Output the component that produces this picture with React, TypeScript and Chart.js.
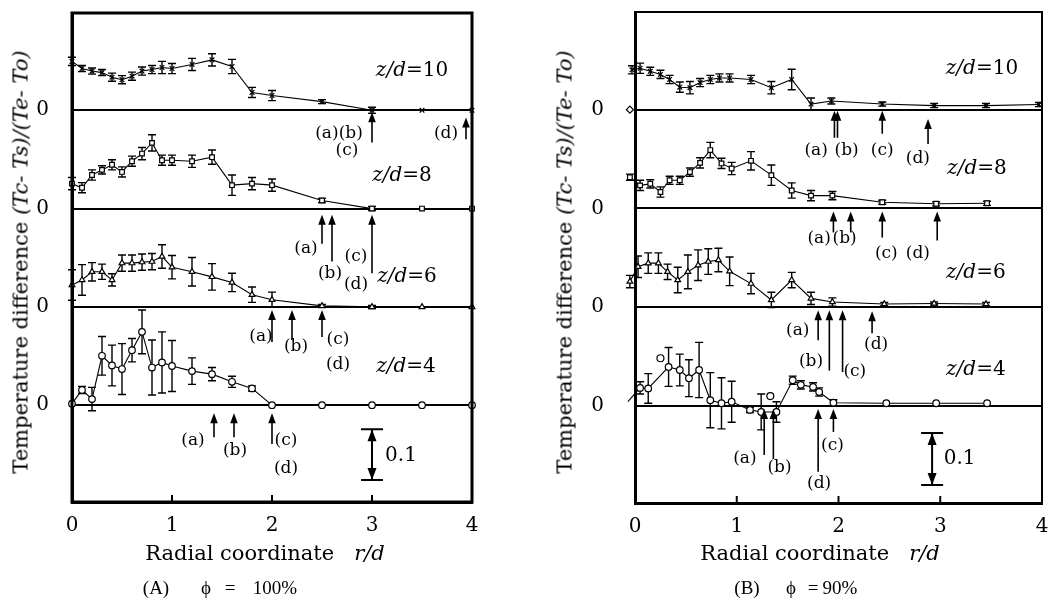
import React, { useEffect, useRef } from 'react';
import { Chart, registerables } from 'chart.js';

Chart.register(...registerables);

const FONT = '"DejaVu Serif", serif';
const CAP_FONT = '"Liberation Serif", "Times New Roman", serif';

// value axis (every profile is shifted up by its own offset; each baseline is labelled "0")
const Y_MIN = -0.19;
const Y_MAX = 0.77;
const OFFSETS = [0.579, 0.386, 0.193, 0]; // z/d = 10, 8, 6, 4
const ZD_TEXT = ['10', '8', '6', '4'];
const STYLES = ['crossRot', 'rect', 'triangle', 'circle'];
const X_TICKS = [0, 1, 2, 3, 4];

// ---------------- Panel A : phi = 100% ----------------
const xA = [0, 0.1, 0.2, 0.3, 0.4, 0.5, 0.6, 0.7, 0.8, 0.9, 1.0, 1.2, 1.4, 1.6, 1.8, 2.0, 2.5, 3.0, 3.5, 4.0];
const yA10 = [0.096, 0.082, 0.077, 0.074, 0.065, 0.06, 0.067, 0.077, 0.08, 0.084, 0.082, 0.09, 0.099, 0.086, 0.035, 0.029, 0.017, 0, 0, 0];
const eA10 = [0.008, 0.006, 0.006, 0.006, 0.008, 0.008, 0.008, 0.008, 0.008, 0.012, 0.01, 0.012, 0.012, 0.014, 0.01, 0.01, 0.004, 0.006, 0, 0];
const yA8 = [0.049, 0.041, 0.066, 0.076, 0.086, 0.072, 0.093, 0.108, 0.129, 0.095, 0.095, 0.093, 0.101, 0.046, 0.049, 0.046, 0.016, 0, 0, 0];
const eA8 = [0.012, 0.01, 0.01, 0.008, 0.01, 0.01, 0.01, 0.012, 0.016, 0.01, 0.01, 0.012, 0.014, 0.02, 0.012, 0.012, 0.004, 0.004, 0, 0];
const yA6 = [0.043, 0.053, 0.069, 0.069, 0.053, 0.086, 0.086, 0.088, 0.089, 0.099, 0.078, 0.069, 0.059, 0.048, 0.024, 0.014, 0.002, 0, 0, 0];
const eA6 = [0.03, 0.03, 0.018, 0.015, 0.012, 0.016, 0.016, 0.016, 0.016, 0.023, 0.023, 0.028, 0.026, 0.018, 0.015, 0.015, 0.003, 0.003, 0, 0];
const yA4 = [0.003, 0.03, 0.012, 0.097, 0.078, 0.071, 0.108, 0.144, 0.074, 0.084, 0.077, 0.067, 0.061, 0.046, 0.033, 0, 0, 0, 0, 0];
const eA4 = [0, 0.007, 0.023, 0.038, 0.04, 0.05, 0.023, 0.043, 0.054, 0.06, 0.05, 0.026, 0.013, 0.011, 0.005, 0, 0, 0, 0, 0];

// arrows: [profile index, r/d, tip value, tail value]
const arrowsA = [
  [0, 3.0, -0.004, -0.063], [0, 3.94, -0.014, -0.057],
  [1, 2.5, -0.012, -0.069], [1, 2.6, -0.012, -0.104], [1, 3.0, -0.012, -0.127],
  [2, 2.0, -0.006, -0.069], [2, 2.2, -0.006, -0.065], [2, 2.5, -0.006, -0.059],
  [3, 1.42, -0.016, -0.063], [3, 1.62, -0.016, -0.063], [3, 2.0, -0.016, -0.076],
];
// arrow labels: [profile index, text, r/d, value]
const marksA: [number, string, number, number][] = [
  [0, '(a)(b)', 2.67, -0.045], [0, '(c)', 2.75, -0.08], [0, '(d)', 3.74, -0.045],
  [1, '(a)', 2.34, -0.078], [1, '(b)', 2.58, -0.127], [1, '(c)', 2.84, -0.094], [1, '(d)', 2.84, -0.15],
  [2, '(a)', 1.89, -0.058], [2, '(b)', 2.24, -0.078], [2, '(c)', 2.66, -0.065], [2, '(d)', 2.66, -0.114],
  [3, '(a)', 1.21, -0.07], [3, '(b)', 1.63, -0.09], [3, '(c)', 2.14, -0.07], [3, '(d)', 2.14, -0.125],
];
// z/d labels: [r/d, value above baseline]
const zdPosA = [[3.4, 0.077], [3.3, 0.065], [3.35, 0.059], [3.34, 0.075]];
// scale bar: [r/d, from, to, label r/d, label value] (relative to z/d=4 baseline)
const barA = [3.0, -0.047, -0.147, 3.29, -0.099];

// ---------------- Panel B : phi = 90% ----------------
const xB10 = [-0.03, 0.05, 0.15, 0.25, 0.34, 0.44, 0.54, 0.64, 0.74, 0.83, 0.93, 1.14, 1.34, 1.54, 1.73, 1.93, 2.43, 2.94, 3.45, 3.97];
const yB10 = [0.078, 0.081, 0.075, 0.069, 0.059, 0.044, 0.043, 0.053, 0.059, 0.062, 0.062, 0.059, 0.043, 0.059, 0.011, 0.017, 0.011, 0.008, 0.008, 0.01];
const eB10 = [0.008, 0.01, 0.008, 0.008, 0.008, 0.01, 0.012, 0.008, 0.008, 0.008, 0.008, 0.008, 0.012, 0.02, 0.012, 0.006, 0.004, 0.004, 0.004, 0.004];
const xB8 = [-0.05, 0.05, 0.15, 0.25, 0.34, 0.44, 0.54, 0.64, 0.74, 0.85, 0.95, 1.14, 1.34, 1.54, 1.73, 1.94, 2.43, 2.96, 3.46];
const yB8 = [0.061, 0.045, 0.048, 0.032, 0.055, 0.055, 0.071, 0.089, 0.114, 0.088, 0.078, 0.093, 0.065, 0.035, 0.025, 0.025, 0.012, 0.009, 0.01];
const eB8 = [0.006, 0.01, 0.008, 0.01, 0.008, 0.008, 0.008, 0.01, 0.015, 0.01, 0.012, 0.018, 0.02, 0.015, 0.01, 0.008, 0.004, 0.004, 0.004];
const xB6 = [-0.05, 0.03, 0.13, 0.23, 0.32, 0.42, 0.52, 0.62, 0.72, 0.82, 0.93, 1.14, 1.34, 1.54, 1.73, 1.94, 2.45, 2.94, 3.45];
const yB6 = [0.05, 0.079, 0.086, 0.086, 0.069, 0.053, 0.069, 0.082, 0.089, 0.092, 0.07, 0.046, 0.014, 0.053, 0.017, 0.01, 0.006, 0.007, 0.006];
const eB6 = [0.012, 0.021, 0.02, 0.02, 0.015, 0.025, 0.033, 0.03, 0.025, 0.023, 0.028, 0.02, 0.015, 0.015, 0.012, 0.008, 0.003, 0.003, 0.003];
const xB4 = [-0.07, 0.05, 0.13, 0.33, 0.44, 0.53, 0.63, 0.74, 0.85, 0.95, 1.13, 1.24, 1.39, 1.55, 1.63, 1.75, 1.81, 1.95, 2.47, 2.96, 3.46];
const yB4 = [0.008, 0.035, 0.034, 0.076, 0.07, 0.054, 0.07, 0.011, 0.005, 0.008, -0.008, -0.012, -0.012, 0.05, 0.041, 0.037, 0.027, 0.006, 0.005, 0.005, 0.005];
const eB4 = [0, 0.012, 0.029, 0.038, 0.031, 0.036, 0.054, 0.054, 0.05, 0.04, 0.005, 0.035, 0.02, 0.008, 0.008, 0.008, 0.008, 0.006, 0, 0, 0];
// isolated readings (no connecting line)
const xB4extra = [0.25, 1.33];
const yB4extra = [0.093, 0.019];
const xB10extra = [-0.05];
const yB10extra = [0.0];

const arrowsB = [
  [0, 1.96, -0.002, -0.055], [0, 1.99, -0.002, -0.055], [0, 2.43, -0.002, -0.047], [0, 2.88, -0.018, -0.067],
  [1, 1.95, -0.006, -0.047], [1, 2.12, -0.006, -0.047], [1, 2.43, -0.006, -0.057], [1, 2.97, -0.006, -0.063],
  [2, 1.8, -0.006, -0.065], [2, 1.91, -0.006, -0.124], [2, 2.04, -0.006, -0.127], [2, 2.33, -0.008, -0.051],
  [3, 1.27, -0.006, -0.096], [3, 1.36, -0.006, -0.104], [3, 1.8, -0.006, -0.129], [3, 1.95, -0.006, -0.051],
];
const marksB: [number, string, number, number][] = [
  [0, '(a)', 1.78, -0.08], [0, '(b)', 2.08, -0.08], [0, '(c)', 2.43, -0.08], [0, '(d)', 2.78, -0.095],
  [1, '(a)', 1.81, -0.059], [1, '(b)', 2.06, -0.059], [1, '(c)', 2.47, -0.088], [1, '(d)', 2.78, -0.088],
  [2, '(a)', 1.6, -0.045], [2, '(b)', 1.73, -0.107], [2, '(c)', 2.16, -0.127], [2, '(d)', 2.37, -0.074],
  [3, '(a)', 1.08, -0.103], [3, '(b)', 1.42, -0.121], [3, '(c)', 1.94, -0.078], [3, '(d)', 1.81, -0.152],
];
const zdPosB = [[3.41, 0.08], [3.36, 0.078], [3.35, 0.067], [3.35, 0.07]];
const barB = [2.92, -0.053, -0.155, 3.19, -0.103];

type Series = { x: number[]; y: number[]; e: number[] };

const panelA = {
  series: [
    { x: xA, y: yA10, e: eA10 }, { x: xA, y: yA8, e: eA8 },
    { x: xA, y: yA6, e: eA6 }, { x: xA, y: yA4, e: eA4 },
  ] as Series[],
  extras: [] as { i: number; x: number[]; y: number[]; style: string }[],
  arrows: arrowsA, marks: marksA, zd: zdPosA, bar: barA,
};
const panelB = {
  series: [
    { x: xB10, y: yB10, e: eB10 }, { x: xB8, y: yB8, e: eB8 },
    { x: xB6, y: yB6, e: eB6 }, { x: xB4, y: yB4, e: eB4 },
  ] as Series[],
  extras: [
    { i: 0, x: xB10extra, y: yB10extra, style: 'rectRot' },
    { i: 3, x: xB4extra, y: yB4extra, style: 'circle' },
  ],
  arrows: arrowsB, marks: marksB, zd: zdPosB, bar: barB,
};

function upArrow(ctx: CanvasRenderingContext2D, x: number, tip: number, tail: number) {
  const dir = tail > tip ? 1 : -1;
  ctx.beginPath();
  ctx.moveTo(x, tail);
  ctx.lineTo(x, tip + dir * 8);
  ctx.lineWidth = 1.6;
  ctx.stroke();
  ctx.beginPath();
  ctx.moveTo(x, tip);
  ctx.lineTo(x - 3.8, tip + dir * 10);
  ctx.lineTo(x + 3.8, tip + dir * 10);
  ctx.closePath();
  ctx.fill();
}

function makePlugin(panel: typeof panelA, frameW: number) {
  return {
    id: 'annot',
    beforeDatasetsDraw(chart: any) {
      const { ctx } = chart;
      const xs = chart.scales.x;
      const ys = chart.scales.y;
      ctx.save();
      ctx.strokeStyle = '#000';
      ctx.lineWidth = 1.4;
      panel.series.forEach((s, i) => {
        const off = OFFSETS[i];
        s.x.forEach((xv, k) => {
          const e = s.e[k];
          if (!e) return;
          const px = xs.getPixelForValue(xv);
          const y1 = ys.getPixelForValue(s.y[k] + off + e);
          const y2 = ys.getPixelForValue(s.y[k] + off - e);
          ctx.beginPath();
          ctx.moveTo(px, y1); ctx.lineTo(px, y2);
          ctx.moveTo(px - 4, y1); ctx.lineTo(px + 4, y1);
          ctx.moveTo(px - 4, y2); ctx.lineTo(px + 4, y2);
          ctx.stroke();
        });
      });
      ctx.restore();
    },
    afterDatasetsDraw(chart: any) {
      const { ctx, chartArea: a } = chart;
      const xs = chart.scales.x;
      const ys = chart.scales.y;
      const X = (v: number) => xs.getPixelForValue(v);
      const Y = (i: number, v: number) => ys.getPixelForValue(v + OFFSETS[i]);
      ctx.save();
      ctx.strokeStyle = '#000';
      ctx.fillStyle = '#000';
      // frame
      ctx.lineWidth = frameW;
      ctx.strokeRect(a.left, a.top, a.right - a.left, a.bottom - a.top);
      // inward ticks on the r/d axis
      ctx.lineWidth = 2;
      X_TICKS.slice(1, -1).forEach((t) => {
        ctx.beginPath();
        ctx.moveTo(X(t), a.bottom);
        ctx.lineTo(X(t), a.bottom - 7);
        ctx.stroke();
      });
      // arrows
      panel.arrows.forEach(([i, xv, tip, tail]) => {
        upArrow(ctx, X(xv), Y(i, tip), Y(i, tail));
      });
      // arrow labels
      ctx.textAlign = 'center';
      ctx.textBaseline = 'middle';
      ctx.font = `17px ${FONT}`;
      panel.marks.forEach(([i, t, xv, v]) => {
        ctx.fillText(t, X(xv), Y(i, v));
      });
      // z/d labels
      panel.zd.forEach(([xv, v], i) => {
        const cx = X(xv);
        const cy = Y(i, v);
        ctx.font = `italic 20px ${FONT}`;
        const w1 = ctx.measureText('z/d').width;
        ctx.font = `20px ${FONT}`;
        const t2 = '=' + ZD_TEXT[i];
        const w2 = ctx.measureText(t2).width;
        const sx = cx - (w1 + w2) / 2;
        ctx.textAlign = 'left';
        ctx.font = `italic 20px ${FONT}`;
        ctx.fillText('z/d', sx, cy);
        ctx.font = `20px ${FONT}`;
        ctx.fillText(t2, sx + w1, cy);
      });
      // scale bar (0.1)
      const [bx, b1, b2, lx, lv] = panel.bar;
      const px = X(bx);
      const p1 = Y(3, b1);
      const p2 = Y(3, b2);
      ctx.lineWidth = 2;
      ctx.beginPath();
      ctx.moveTo(px, p1); ctx.lineTo(px, p2);
      ctx.moveTo(px - 11, p1); ctx.lineTo(px + 11, p1);
      ctx.moveTo(px - 11, p2); ctx.lineTo(px + 11, p2);
      ctx.stroke();
      ctx.beginPath();
      ctx.moveTo(px, p1); ctx.lineTo(px - 4.5, p1 + 12); ctx.lineTo(px + 4.5, p1 + 12); ctx.closePath();
      ctx.moveTo(px, p2); ctx.lineTo(px - 4.5, p2 - 12); ctx.lineTo(px + 4.5, p2 - 12); ctx.closePath();
      ctx.fill();
      ctx.textAlign = 'center';
      ctx.font = `20px ${FONT}`;
      ctx.fillText('0.1', X(lx), Y(3, lv));
      ctx.restore();
    },
  };
}

type Area = { left: number; right: number; top: number; bottom: number };

function Panel({ panel, left, width, height, area, frameW, tickPad }: {
  panel: typeof panelA; left: number; width: number; height: number; area: Area; frameW: number; tickPad: number;
}) {
  const ref = useRef<HTMLCanvasElement>(null);
  useEffect(() => {
    const datasets: any[] = panel.series.map((s, i) => ({
      data: s.x.map((xv, k) => ({ x: xv, y: s.y[k] + OFFSETS[i] })),
      borderColor: '#000',
      borderWidth: 1.1,
      pointStyle: STYLES[i],
      pointRadius: 3.3,
      pointBackgroundColor: '#fff',
      pointBorderColor: '#000',
      pointBorderWidth: 1.2,
      tension: 0,
      clip: false,
    }));
    panel.extras.forEach((ex) => {
      datasets.push({
        data: ex.x.map((xv, k) => ({ x: xv, y: ex.y[k] + OFFSETS[ex.i] })),
        showLine: false,
        pointStyle: ex.style,
        pointRadius: 3.5,
        pointBackgroundColor: '#fff',
        pointBorderColor: '#000',
        pointBorderWidth: 1.2,
        clip: false,
      });
    });
    const chart = new Chart(ref.current as HTMLCanvasElement, {
      type: 'line',
      data: { datasets },
      options: {
        animation: false,
        responsive: false,
        devicePixelRatio: 1,
        layout: { padding: { left: 0, top: area.top, right: width - area.right, bottom: 0 } },
        plugins: { legend: { display: false }, tooltip: { enabled: false } },
        scales: {
          x: {
            type: 'linear',
            min: 0,
            max: 4,
            afterFit: (s: any) => {
              s.height = height - area.bottom;
              s.paddingLeft = 0;
              s.paddingRight = 0;
            },
            afterBuildTicks: (s: any) => { s.ticks = X_TICKS.map((v) => ({ value: v })); },
            ticks: { font: { family: FONT, size: 20 }, color: '#000', padding: 4, maxRotation: 0 },
            grid: { display: false },
            border: { display: true, color: '#000', width: 3 },
          },
          y: {
            type: 'linear',
            min: Y_MIN,
            max: Y_MAX,
            afterFit: (s: any) => {
              s.width = area.left;
              s.paddingTop = 0;
              s.paddingBottom = 0;
            },
            afterBuildTicks: (s: any) => { s.ticks = OFFSETS.map((v) => ({ value: v })); },
            ticks: { callback: () => '0', font: { family: FONT, size: 20 }, color: '#000', padding: tickPad },
            grid: { color: '#000', lineWidth: 2, drawTicks: false },
            border: { display: true, color: '#000', width: 3 },
          },
        },
      } as any,
      plugins: [makePlugin(panel, frameW)],
    });
    return () => chart.destroy();
  }, []);
  return (
    <canvas
      ref={ref}
      width={width}
      height={height}
      style={{ position: 'absolute', left, top: 0, width, height }}
    />
  );
}

const txt: React.CSSProperties = {
  position: 'absolute',
  fontFamily: FONT,
  color: '#000',
  whiteSpace: 'pre',
  lineHeight: 1,
};

function YTitle({ cx, cy }: { cx: number; cy: number }) {
  return (
    <div style={{ ...txt, left: cx, top: cy, fontSize: 21, transform: 'translate(-50%, -50%) rotate(-90deg)' }}>
      Temperature difference <i>(Tc- Ts)/(Te- To)</i>
    </div>
  );
}

function XTitle({ cx, cy }: { cx: number; cy: number }) {
  return (
    <div style={{ ...txt, left: cx, top: cy, fontSize: 21, transform: 'translate(-50%, -50%)' }}>
      Radial coordinate   <i>r/d</i>
    </div>
  );
}

function Caption({ xs, cy, parts }: { xs: number[]; cy: number; parts: string[] }) {
  const s: React.CSSProperties = { ...txt, top: cy, fontSize: 19, fontFamily: CAP_FONT, transform: 'translate(-50%, -50%)' };
  return (
    <>
      {parts.map((p, i) => (
        <div key={i} style={{ ...s, left: xs[i] }}>{p}</div>
      ))}
    </>
  );
}

export default function App() {
  return (
    <div style={{ position: 'absolute', left: 0, top: 0, width: 1052, height: 604, background: '#fff', overflow: 'hidden' }}>
      <Panel panel={panelA} left={0} width={540} height={604} area={{ left: 72, right: 472, top: 13, bottom: 502 }} frameW={3} tickPad={23} />
      <Panel panel={panelB} left={540} width={512} height={604} area={{ left: 95, right: 502, top: 12, bottom: 503 }} frameW={2} tickPad={31} />
      <YTitle cx={21} cy={262} />
      <YTitle cx={565} cy={262} />
      <XTitle cx={265} cy={553} />
      <XTitle cx={820} cy={553} />
      <Caption xs={[156, 206, 230, 275]} cy={587} parts={['(A)', '\u03D5', '=', '100%']} />
      <Caption xs={[747, 791, 813, 840]} cy={587} parts={['(B)', '\u03D5', '=', '90%']} />
    </div>
  );
}
